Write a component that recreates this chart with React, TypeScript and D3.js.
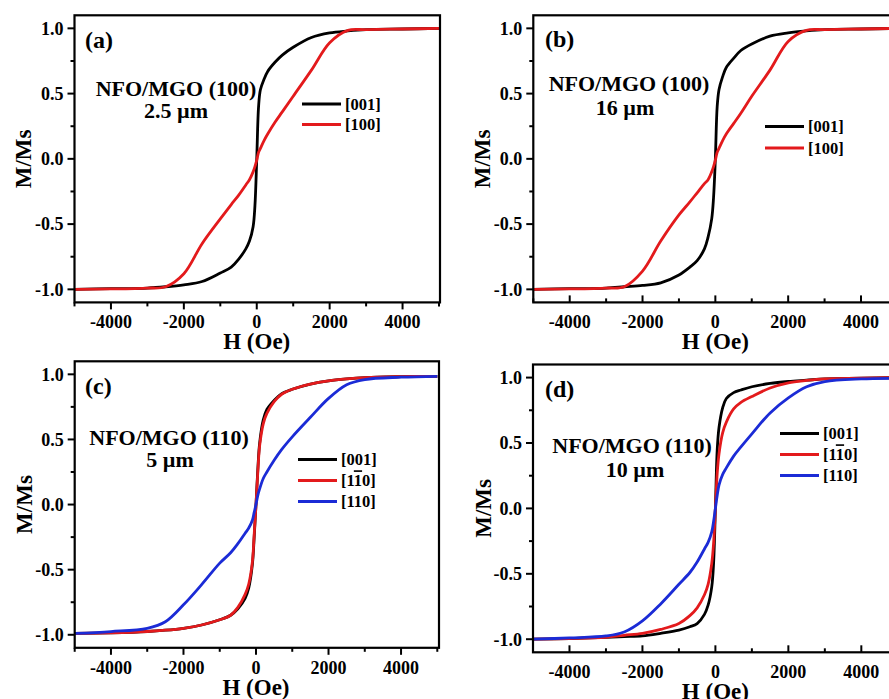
import React from "react";
import * as d3 from "d3";

// ---------- data ----------
const H = [-5000, -4000, -3000, -2500, -2000, -1500, -1000, -700, -500, -300, -200, -100, -50, 0, 50, 100, 200, 300, 500, 700, 1000, 1500, 2000, 2500, 3000, 4000, 5000];

// panel (a) NFO/MGO (100) 2.5 µm
const mA001 = [-1.0, -0.995, -0.99, -0.98, -0.965, -0.94, -0.875, -0.83, -0.77, -0.69, -0.63, -0.52, -0.36, 0.0, 0.4, 0.53, 0.61, 0.67, 0.74, 0.795, 0.855, 0.93, 0.965, 0.98, 0.99, 0.995, 1.0];
const mA100 = [-1.0, -0.997, -0.99, -0.98, -0.88, -0.65, -0.46, -0.35, -0.28, -0.2, -0.16, -0.1, -0.06, -0.01, 0.05, 0.08, 0.14, 0.19, 0.28, 0.36, 0.48, 0.68, 0.89, 0.985, 0.99, 0.995, 1.0];
// panel (b) NFO/MGO (100) 16 µm
const mB001 = [-1.0, -0.995, -0.99, -0.98, -0.97, -0.95, -0.89, -0.83, -0.78, -0.69, -0.6, -0.46, -0.3, 0.0, 0.4, 0.53, 0.63, 0.7, 0.77, 0.83, 0.88, 0.94, 0.965, 0.98, 0.99, 0.995, 1.0];
const mB100 = [-1.0, -0.997, -0.99, -0.98, -0.86, -0.63, -0.43, -0.33, -0.26, -0.19, -0.16, -0.1, -0.06, -0.01, 0.05, 0.08, 0.14, 0.19, 0.27, 0.35, 0.48, 0.68, 0.9, 0.985, 0.99, 0.995, 1.0];
// panel (c) NFO/MGO (110) 5 µm
const mC001 = [-0.99, -0.985, -0.975, -0.965, -0.95, -0.925, -0.885, -0.85, -0.8, -0.72, -0.64, -0.46, -0.25, 0.0, 0.27, 0.47, 0.65, 0.73, 0.8, 0.85, 0.885, 0.925, 0.95, 0.965, 0.975, 0.982, 0.985];
const mC1b10 = [-0.99, -0.985, -0.975, -0.965, -0.95, -0.925, -0.885, -0.85, -0.79, -0.69, -0.61, -0.44, -0.23, 0.0, 0.25, 0.45, 0.62, 0.7, 0.79, 0.845, 0.885, 0.925, 0.95, 0.965, 0.975, 0.982, 0.985];
const mC110 = [-0.99, -0.975, -0.95, -0.9, -0.77, -0.615, -0.45, -0.37, -0.3, -0.22, -0.18, -0.12, -0.06, 0.0, 0.07, 0.12, 0.2, 0.25, 0.34, 0.42, 0.52, 0.67, 0.815, 0.92, 0.96, 0.978, 0.985];
// panel (d) NFO/MGO (110) 10 µm
const mD001 = [-1.0, -0.995, -0.985, -0.98, -0.975, -0.955, -0.93, -0.905, -0.88, -0.81, -0.74, -0.6, -0.42, 0.0, 0.45, 0.62, 0.77, 0.84, 0.885, 0.905, 0.93, 0.955, 0.97, 0.98, 0.99, 0.995, 1.0];
const mD1b10 = [-1.0, -0.995, -0.985, -0.97, -0.955, -0.925, -0.88, -0.82, -0.76, -0.66, -0.58, -0.42, -0.27, 0.0, 0.27, 0.42, 0.58, 0.66, 0.76, 0.81, 0.855, 0.92, 0.96, 0.978, 0.99, 0.995, 1.0];
const mD110 = [-1.0, -0.99, -0.975, -0.945, -0.86, -0.73, -0.58, -0.49, -0.41, -0.31, -0.26, -0.18, -0.1, 0.0, 0.1, 0.18, 0.26, 0.31, 0.4, 0.47, 0.57, 0.73, 0.845, 0.93, 0.97, 0.99, 0.995];

const xTicks = [-4000, -2000, 0, 2000, 4000];
const xMinor = [-5000, -3000, -1000, 1000, 3000, 5000];
const yTicks = [-1.0, -0.5, 0.0, 0.5, 1.0];
const yMinor = [-0.75, -0.25, 0.25, 0.75];

const BLACK = "#000000";
const RED = "#e31a1c";
const BLUE = "#1b2bd6";

type Series = { name: string; m: number[]; color: string; overline?: boolean };

const panels = [
  {
    id: "a", label: "(a)", title: "NFO/MGO (100)", sub: "2.5 µm",
    series: [
      { name: "[001]", m: mA001, color: BLACK },
      { name: "[100]", m: mA100, color: RED },
    ] as Series[],
    box: { x0: 74.5, x1: 439, y0: 15.3, y1: 302.4, right: 440 },
    tickIn: false,
    labelPos: [85, 48], titlePos: [176, 96], subPos: [176, 118],
    legend: { x: 302, y: 104, dy: 20.5 }, yLabelX: 23,
  },
  {
    id: "b", label: "(b)", title: "NFO/MGO (100)", sub: "16 µm",
    series: [
      { name: "[001]", m: mB001, color: BLACK },
      { name: "[100]", m: mB100, color: RED },
    ] as Series[],
    box: { x0: 533.3, x1: 897.4, y0: 15.3, y1: 302.4, right: 899 },
    tickIn: true,
    labelPos: [545, 47], titlePos: [629, 91], subPos: [625, 115],
    legend: { x: 765, y: 126.5, dy: 21.5 }, yLabelX: 482,
  },
  {
    id: "c", label: "(c)", title: "NFO/MGO (110)", sub: "5 µm",
    series: [
      { name: "[001]", m: mC001, color: BLACK },
      { name: "[1_0]", m: mC1b10, color: RED, overline: true },
      { name: "[110]", m: mC110, color: BLUE },
    ] as Series[],
    box: { x0: 74.7, x1: 437.3, y0: 361.3, y1: 647.8, right: 439 },
    tickIn: false,
    labelPos: [85, 394], titlePos: [169, 445], subPos: [170, 467],
    legend: { x: 298, y: 459.5, dy: 21 }, yLabelX: 24,
  },
  {
    id: "d", label: "(d)", title: "NFO/MGO (110)", sub: "10 µm",
    series: [
      { name: "[001]", m: mD001, color: BLACK },
      { name: "[1_0]", m: mD1b10, color: RED, overline: true },
      { name: "[110]", m: mD110, color: BLUE },
    ] as Series[],
    box: { x0: 533, x1: 897.8, y0: 364.5, y1: 652.3, right: 899 },
    tickIn: true,
    labelPos: [545, 397], titlePos: [632, 453], subPos: [635, 477],
    legend: { x: 780, y: 433.5, dy: 21 }, yLabelX: 483,
  },
];

const FONT = "'Liberation Serif', 'Times New Roman', serif";

function LegendText({ s, x, y }: { s: Series; x: number; y: number }) {
  if (s.overline) {
    return (
      <text x={x} y={y} dy="0.35em" fontSize={16.5} fontWeight="bold" fontFamily={FONT}>
        [1<tspan style={{ textDecoration: "overline" }}>1</tspan>0]
      </text>
    );
  }
  return (
    <text x={x} y={y} dy="0.35em" fontSize={16.5} fontWeight="bold" fontFamily={FONT}>
      {s.name}
    </text>
  );
}

function Panel({ p }: { p: (typeof panels)[number] }) {
  const { x0, x1, y0, y1, right } = p.box;
  const xs = d3.scaleLinear().domain([-5000, 5000]).range([x0, x1]);
  const ys = d3.scaleLinear().domain([-1.1, 1.1]).range([y1, y0]);
  const line = d3
    .line<number>()
    .x((_, i) => xs(H[i]))
    .y((v) => ys(v))
    .curve(d3.curveCatmullRom.alpha(0.5));
  const clipId = `clip-${p.id}`;
  const tickDir = p.tickIn ? -1 : 1;
  return (
    <g>
      <defs>
        <clipPath id={clipId}>
          <rect x={x0} y={y0} width={right - x0} height={y1 - y0} />
        </clipPath>
      </defs>
      <g clipPath={`url(#${clipId})`}>
        {p.series.map((s, i) => (
          <path key={i} d={line(s.m) || ""} fill="none" stroke={s.color} strokeWidth={2.8} strokeLinejoin="round" />
        ))}
      </g>
      {/* frame */}
      <rect x={x0} y={y0} width={right - x0} height={y1 - y0} fill="none" stroke="#000" strokeWidth={2.2} />
      {/* x ticks */}
      {xTicks.map((t) => (
        <g key={`xt${t}`}>
          <line x1={xs(t)} x2={xs(t)} y1={y1} y2={y1 + tickDir * 7} stroke="#000" strokeWidth={2} />
          <text x={xs(t)} y={y1 + 26} textAnchor="middle" fontSize={18} fontWeight="bold" fontFamily={FONT}>
            {String(t)}
          </text>
        </g>
      ))}
      {xMinor.map((t) => (
        <line key={`xm${t}`} x1={xs(t)} x2={xs(t)} y1={y1} y2={y1 + tickDir * 4} stroke="#000" strokeWidth={2} />
      ))}
      {/* y ticks */}
      {yTicks.map((t) => (
        <g key={`yt${t}`}>
          <line x1={x0} x2={x0 - 7} y1={ys(t)} y2={ys(t)} stroke="#000" strokeWidth={2} />
          <text x={x0 - 11} y={ys(t)} dy="0.35em" textAnchor="end" fontSize={18} fontWeight="bold" fontFamily={FONT}>
            {t.toFixed(1)}
          </text>
        </g>
      ))}
      {yMinor.map((t) => (
        <line key={`ym${t}`} x1={x0} x2={x0 - 4} y1={ys(t)} y2={ys(t)} stroke="#000" strokeWidth={2} />
      ))}
      {/* axis titles */}
      <text x={xs(0)} y={y1 + 47} textAnchor="middle" fontSize={23} fontWeight="bold" fontFamily={FONT}>
        H (Oe)
      </text>
      <text
        transform={`translate(${p.yLabelX},${(y0 + y1) / 2}) rotate(-90)`}
        textAnchor="middle"
        dy="0.35em"
        fontSize={23}
        fontWeight="bold"
        fontFamily={FONT}
      >
        M/Ms
      </text>
      {/* annotations */}
      <text x={p.labelPos[0]} y={p.labelPos[1]} fontSize={24} fontWeight="bold" fontFamily={FONT}>
        {p.label}
      </text>
      <text x={p.titlePos[0]} y={p.titlePos[1]} textAnchor="middle" fontSize={22} fontWeight="bold" fontFamily={FONT}>
        {p.title}
      </text>
      <text x={p.subPos[0]} y={p.subPos[1]} textAnchor="middle" fontSize={22} fontWeight="bold" fontFamily={FONT}>
        {p.sub}
      </text>
      {/* legend */}
      {p.series.map((s, i) => {
        const ly = p.legend.y + i * p.legend.dy;
        return (
          <g key={`lg${i}`}>
            <line x1={p.legend.x} x2={p.legend.x + 39} y1={ly} y2={ly} stroke={s.color} strokeWidth={2.8} />
            <LegendText s={s} x={p.legend.x + 43} y={ly} />
          </g>
        );
      })}
    </g>
  );
}

export default function App() {
  return (
    <svg
      width={889}
      height={699}
      viewBox="0 0 889 699"
      style={{ position: "absolute", left: 0, top: 0, background: "#fff" }}
    >
      <rect x={0} y={0} width={889} height={699} fill="#fff" />
      {panels.map((p) => (
        <Panel key={p.id} p={p} />
      ))}
    </svg>
  );
}
